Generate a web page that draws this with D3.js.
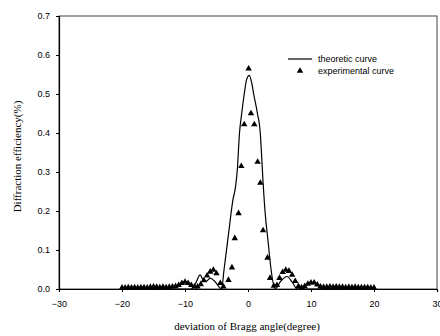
<!DOCTYPE html>
<html>
<head>
<meta charset="utf-8">
<script src="https://cdn.jsdelivr.net/npm/d3@7"></script>
<style>
  body { margin: 0; background: #fff; }
  svg { display: block; }
</style>
</head>
<body>
<div id="chart"></div>
<script>
// theoretic curve (traced)
var theoAngle = [-20, -9, -8.3, -7.6, -7.0, -6.6, -6.0, -5.2, -4.2, -3.8, -3.1, -2.4, -2.0, -1.7, -1.35, -1.0, -0.6, -0.2, 0.2, 0.6, 0.9, 1.5, 1.95, 2.2, 2.3, 2.7, 3.2, 3.66, 4.3, 5.2, 6.2, 7.0, 7.8, 20];
var theoEff = [0, 0, 0.015, 0.036, 0.02, 0.02, 0.028, 0.018, 0, 0.05, 0.14, 0.228, 0.26, 0.305, 0.4, 0.45, 0.5, 0.538, 0.548, 0.528, 0.5, 0.45, 0.4, 0.33, 0.3, 0.2, 0.12, 0.05, 0, 0.02, 0.032, 0.018, 0, 0];

// experimental points
var expAngle = [-20, -19.5, -19, -18.5, -18, -17.5, -17, -16.5, -16, -15.5, -15, -14.5, -14, -13.5, -13, -12.5, -12, -11.5, -11, -10.5, -10, -9.5, -9, -8.5, -8, -7.5, -7, -6.5, -6, -5.5, -5, -4.4, -3.9, -3.1, -2.55, -2.1, -1.5, -1.07, -0.6, 0.1, 0.47, 1.0, 1.53, 1.96, 2.39, 3.1, 3.5, 4.1, 4.6, 5.0, 5.5, 6.0, 6.5, 7.0, 7.5, 8.0, 8.5, 9.0, 9.5, 10.0, 10.5, 11.0, 11.5, 12, 12.5, 13, 13.5, 14, 14.5, 15, 15.5, 16, 16.5, 17, 17.5, 18, 18.5, 19, 19.5, 20];
var expEff = [0.003, 0.003, 0.004, 0.003, 0.004, 0.003, 0.004, 0.004, 0.003, 0.005, 0.006, 0.005, 0.004, 0.005, 0.004, 0.005, 0.006, 0.007, 0.010, 0.015, 0.018, 0.015, 0.010, 0.006, 0.006, 0.012, 0.022, 0.034, 0.044, 0.049, 0.040, 0.015, 0.006, 0.023, 0.055, 0.13, 0.194, 0.315, 0.422, 0.565, 0.45, 0.422, 0.326, 0.272, 0.15, 0.08, 0.028, 0.008, 0.01, 0.028, 0.043, 0.049, 0.046, 0.036, 0.02, 0.007, 0.004, 0.007, 0.013, 0.016, 0.016, 0.011, 0.006, 0.005, 0.005, 0.006, 0.005, 0.006, 0.005, 0.005, 0.004, 0.005, 0.004, 0.005, 0.004, 0.004, 0.004, 0.004, 0.003, 0.003];

var xTicks = [-30, -20, -10, 0, 10, 20, 30];
var yTicks = [0.0, 0.1, 0.2, 0.3, 0.4, 0.5, 0.6, 0.7];

var W = 440, H = 336;
var margin = { top: 16, right: 3, bottom: 47, left: 59 };
var width = W - margin.left - margin.right;
var height = H - margin.top - margin.bottom;

var svg = d3.select("#chart").append("svg")
  .attr("width", W)
  .attr("height", H);

var g = svg.append("g")
  .attr("transform", "translate(" + margin.left + "," + margin.top + ")");

var x = d3.scaleLinear().domain([-30, 30]).range([0, width]);
var y = d3.scaleLinear().domain([0, 0.7]).range([height, 0]);

var sans = "'Liberation Sans', Arial, sans-serif";
var serif = "'Liberation Serif', 'Times New Roman', serif";

// frame
g.append("rect")
  .attr("width", width)
  .attr("height", height)
  .attr("fill", "none")
  .attr("stroke", "#444")
  .attr("stroke-width", 1);

var xAxis = g.append("g")
  .attr("transform", "translate(0," + height + ")")
  .call(d3.axisBottom(x).tickValues(xTicks).tickSize(3).tickFormat(d3.format("d")));
var yAxis = g.append("g")
  .call(d3.axisLeft(y).tickValues(yTicks).tickSize(3).tickFormat(d3.format(".1f")));

[xAxis, yAxis].forEach(function(a) {
  a.select(".domain").attr("stroke", "#000").attr("stroke-width", 1.2);
  a.selectAll(".tick line").attr("stroke", "#000");
  a.selectAll("text").attr("font-family", sans).attr("font-size", 9).attr("fill", "#000");
});
xAxis.selectAll("text").attr("dy", "0.71em").attr("y", 12);
yAxis.selectAll("text").attr("x", -9);

// theoretic curve
var line = d3.line()
  .x(function(d) { return x(d[0]); })
  .y(function(d) { return y(d[1]); })
  .curve(d3.curveMonotoneX);

g.append("path")
  .datum(theoAngle.map(function(a, i) { return [a, theoEff[i]]; }))
  .attr("d", line)
  .attr("fill", "none")
  .attr("stroke", "#000")
  .attr("stroke-width", 1.2);

// experimental points
var tri = d3.symbol().type(d3.symbolTriangle).size(18);
g.selectAll(".pt")
  .data(expAngle.map(function(a, i) { return [a, expEff[i]]; }))
  .enter()
  .append("path")
  .attr("class", "pt")
  .attr("d", tri)
  .attr("transform", function(d) { return "translate(" + x(d[0]) + "," + y(d[1]) + ")"; })
  .attr("fill", "#000");

// legend
var leg = svg.append("g");
leg.append("line")
  .attr("x1", 288).attr("x2", 312)
  .attr("y1", 59).attr("y2", 59)
  .attr("stroke", "#000")
  .attr("stroke-width", 1.2);
leg.append("text")
  .attr("x", 318).attr("y", 62)
  .attr("font-family", sans).attr("font-size", 9)
  .text("theoretic curve");
leg.append("path")
  .attr("d", tri)
  .attr("transform", "translate(300,71)")
  .attr("fill", "#000");
leg.append("text")
  .attr("x", 318).attr("y", 74)
  .attr("font-family", sans).attr("font-size", 9)
  .text("experimental curve");

// axis titles
svg.append("text")
  .attr("x", margin.left + width / 2 - 1)
  .attr("y", 330)
  .attr("text-anchor", "middle")
  .attr("font-family", serif)
  .attr("font-size", 11)
  .text("deviation of Bragg angle(degree)");

svg.append("text")
  .attr("transform", "translate(21," + (margin.top + height / 2 + 4) + ") rotate(-90)")
  .attr("text-anchor", "middle")
  .attr("font-family", serif)
  .attr("font-size", 11)
  .text("Diffraction efficiency(%)");
</script>
</body>
</html>
